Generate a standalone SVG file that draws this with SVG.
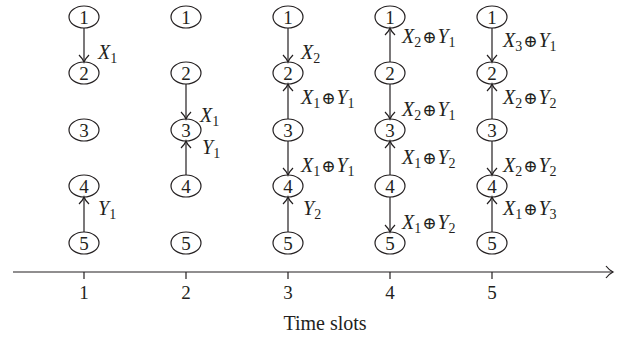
<svg xmlns="http://www.w3.org/2000/svg" width="624" height="343" viewBox="0 0 624 343">
<style>
text{font-family:"Liberation Serif","DejaVu Serif",serif;fill:#231f20}
.n{font-size:19px;text-anchor:middle}
.lab{font-size:20px}
.v{font-style:italic}
.s{font-size:14px}
.op{font-family:"DejaVu Serif",serif;font-size:17px}
ellipse{fill:none;stroke:#231f20;stroke-width:1.2}
.e line{stroke:#231f20;stroke-width:1.2;marker-end:url(#ah)}
.ax{stroke:#231f20;stroke-width:1.2}
</style>
<defs>
<marker id="ah" markerUnits="userSpaceOnUse" markerWidth="12" markerHeight="12" refX="0" refY="0" viewBox="-8 -6 10 12" orient="auto" overflow="visible">
<path d="M-7,-5 Q-3,-1 0,0 Q-3,1 -7,5" fill="none" stroke="#231f20" stroke-width="1.2"/>
</marker>
</defs>
<g id="nodes">
<g id="c1">
<g id="n1-1"><ellipse cx="84" cy="17" rx="15" ry="11"/><text class="n" x="84" y="24">1</text></g>
<g id="n1-2"><ellipse cx="84" cy="73" rx="15" ry="11"/><text class="n" x="84" y="80">2</text></g>
<g id="n1-3"><ellipse cx="84" cy="130" rx="15" ry="11"/><text class="n" x="84" y="137">3</text></g>
<g id="n1-4"><ellipse cx="84" cy="186" rx="15" ry="11"/><text class="n" x="84" y="193">4</text></g>
<g id="n1-5"><ellipse cx="84" cy="243" rx="15" ry="11"/><text class="n" x="84" y="250">5</text></g>
</g>
<g id="c2">
<g id="n2-1"><ellipse cx="186" cy="17" rx="15" ry="11"/><text class="n" x="186" y="24">1</text></g>
<g id="n2-2"><ellipse cx="186" cy="73" rx="15" ry="11"/><text class="n" x="186" y="80">2</text></g>
<g id="n2-3"><ellipse cx="186" cy="130" rx="15" ry="11"/><text class="n" x="186" y="137">3</text></g>
<g id="n2-4"><ellipse cx="186" cy="186" rx="15" ry="11"/><text class="n" x="186" y="193">4</text></g>
<g id="n2-5"><ellipse cx="186" cy="243" rx="15" ry="11"/><text class="n" x="186" y="250">5</text></g>
</g>
<g id="c3">
<g id="n3-1"><ellipse cx="288" cy="17" rx="15" ry="11"/><text class="n" x="288" y="24">1</text></g>
<g id="n3-2"><ellipse cx="288" cy="73" rx="15" ry="11"/><text class="n" x="288" y="80">2</text></g>
<g id="n3-3"><ellipse cx="288" cy="130" rx="15" ry="11"/><text class="n" x="288" y="137">3</text></g>
<g id="n3-4"><ellipse cx="288" cy="186" rx="15" ry="11"/><text class="n" x="288" y="193">4</text></g>
<g id="n3-5"><ellipse cx="288" cy="243" rx="15" ry="11"/><text class="n" x="288" y="250">5</text></g>
</g>
<g id="c4">
<g id="n4-1"><ellipse cx="390" cy="17" rx="15" ry="11"/><text class="n" x="390" y="24">1</text></g>
<g id="n4-2"><ellipse cx="390" cy="73" rx="15" ry="11"/><text class="n" x="390" y="80">2</text></g>
<g id="n4-3"><ellipse cx="390" cy="130" rx="15" ry="11"/><text class="n" x="390" y="137">3</text></g>
<g id="n4-4"><ellipse cx="390" cy="186" rx="15" ry="11"/><text class="n" x="390" y="193">4</text></g>
<g id="n4-5"><ellipse cx="390" cy="243" rx="15" ry="11"/><text class="n" x="390" y="250">5</text></g>
</g>
<g id="c5">
<g id="n5-1"><ellipse cx="492" cy="17" rx="15" ry="11"/><text class="n" x="492" y="24">1</text></g>
<g id="n5-2"><ellipse cx="492" cy="73" rx="15" ry="11"/><text class="n" x="492" y="80">2</text></g>
<g id="n5-3"><ellipse cx="492" cy="130" rx="15" ry="11"/><text class="n" x="492" y="137">3</text></g>
<g id="n5-4"><ellipse cx="492" cy="186" rx="15" ry="11"/><text class="n" x="492" y="193">4</text></g>
<g id="n5-5"><ellipse cx="492" cy="243" rx="15" ry="11"/><text class="n" x="492" y="250">5</text></g>
</g>
</g>
<g id="connectors" class="e">
<line x1="84" y1="28" x2="84" y2="62"/>
<line x1="84" y1="232" x2="84" y2="197"/>
<line x1="186" y1="84" x2="186" y2="119"/>
<line x1="186" y1="175" x2="186" y2="141"/>
<line x1="288" y1="28" x2="288" y2="62"/>
<line x1="288" y1="119" x2="288" y2="84"/>
<line x1="288" y1="141" x2="288" y2="175"/>
<line x1="288" y1="232" x2="288" y2="197"/>
<line x1="390" y1="62" x2="390" y2="28"/>
<line x1="390" y1="84" x2="390" y2="119"/>
<line x1="390" y1="175" x2="390" y2="141"/>
<line x1="390" y1="197" x2="390" y2="232"/>
<line x1="492" y1="28" x2="492" y2="62"/>
<line x1="492" y1="119" x2="492" y2="84"/>
<line x1="492" y1="141" x2="492" y2="175"/>
<line x1="492" y1="232" x2="492" y2="197"/>
</g>
<g id="labels" class="lab">
<text x="98" y="59"><tspan class="v">X</tspan><tspan class="s" dy="4">1</tspan></text>
<text x="98" y="215"><tspan class="v">Y</tspan><tspan class="s" dy="4">1</tspan></text>
<text x="200" y="122"><tspan class="v">X</tspan><tspan class="s" dy="4">1</tspan></text>
<text x="202" y="154"><tspan class="v">Y</tspan><tspan class="s" dy="4">1</tspan></text>
<text x="301" y="59"><tspan class="v">X</tspan><tspan class="s" dy="4">2</tspan></text>
<text x="301" y="104"><tspan class="v">X</tspan><tspan class="s" dy="4">1</tspan><tspan class="op" dy="-4" dx="1">⊕</tspan><tspan class="v" dx="1">Y</tspan><tspan class="s" dy="4">1</tspan></text>
<text x="301" y="172"><tspan class="v">X</tspan><tspan class="s" dy="4">1</tspan><tspan class="op" dy="-4" dx="1">⊕</tspan><tspan class="v" dx="1">Y</tspan><tspan class="s" dy="4">1</tspan></text>
<text x="303" y="215"><tspan class="v">Y</tspan><tspan class="s" dy="4">2</tspan></text>
<text x="402" y="43"><tspan class="v">X</tspan><tspan class="s" dy="4">2</tspan><tspan class="op" dy="-4" dx="1">⊕</tspan><tspan class="v" dx="1">Y</tspan><tspan class="s" dy="4">1</tspan></text>
<text x="402" y="116"><tspan class="v">X</tspan><tspan class="s" dy="4">2</tspan><tspan class="op" dy="-4" dx="1">⊕</tspan><tspan class="v" dx="1">Y</tspan><tspan class="s" dy="4">1</tspan></text>
<text x="402" y="164"><tspan class="v">X</tspan><tspan class="s" dy="4">1</tspan><tspan class="op" dy="-4" dx="1">⊕</tspan><tspan class="v" dx="1">Y</tspan><tspan class="s" dy="4">2</tspan></text>
<text x="402" y="229"><tspan class="v">X</tspan><tspan class="s" dy="4">1</tspan><tspan class="op" dy="-4" dx="1">⊕</tspan><tspan class="v" dx="1">Y</tspan><tspan class="s" dy="4">2</tspan></text>
<text x="503" y="47"><tspan class="v">X</tspan><tspan class="s" dy="4">3</tspan><tspan class="op" dy="-4" dx="1">⊕</tspan><tspan class="v" dx="1">Y</tspan><tspan class="s" dy="4">1</tspan></text>
<text x="503" y="104"><tspan class="v">X</tspan><tspan class="s" dy="4">2</tspan><tspan class="op" dy="-4" dx="1">⊕</tspan><tspan class="v" dx="1">Y</tspan><tspan class="s" dy="4">2</tspan></text>
<text x="503" y="172"><tspan class="v">X</tspan><tspan class="s" dy="4">2</tspan><tspan class="op" dy="-4" dx="1">⊕</tspan><tspan class="v" dx="1">Y</tspan><tspan class="s" dy="4">2</tspan></text>
<text x="503" y="215"><tspan class="v">X</tspan><tspan class="s" dy="4">1</tspan><tspan class="op" dy="-4" dx="1">⊕</tspan><tspan class="v" dx="1">Y</tspan><tspan class="s" dy="4">3</tspan></text>
</g>
<g id="axis">
<line class="ax" x1="13" y1="272" x2="613" y2="272"/>
<path d="M606,266 Q609,270 613,272 Q609,274 606,278" fill="none" stroke="#231f20" stroke-width="1.2"/>
<line class="ax" x1="84" y1="272" x2="84" y2="279"/>
<line class="ax" x1="186" y1="272" x2="186" y2="279"/>
<line class="ax" x1="288" y1="272" x2="288" y2="279"/>
<line class="ax" x1="390" y1="272" x2="390" y2="279"/>
<line class="ax" x1="492" y1="272" x2="492" y2="279"/>
<text class="n" x="84" y="299" font-size="18">1</text>
<text class="n" x="186" y="299" font-size="18">2</text>
<text class="n" x="288" y="299" font-size="18">3</text>
<text class="n" x="390" y="299" font-size="18">4</text>
<text class="n" x="492" y="299" font-size="18">5</text>
<text class="n" x="325" y="330" style="font-size:20px">Time slots</text>
</g>
</svg>
